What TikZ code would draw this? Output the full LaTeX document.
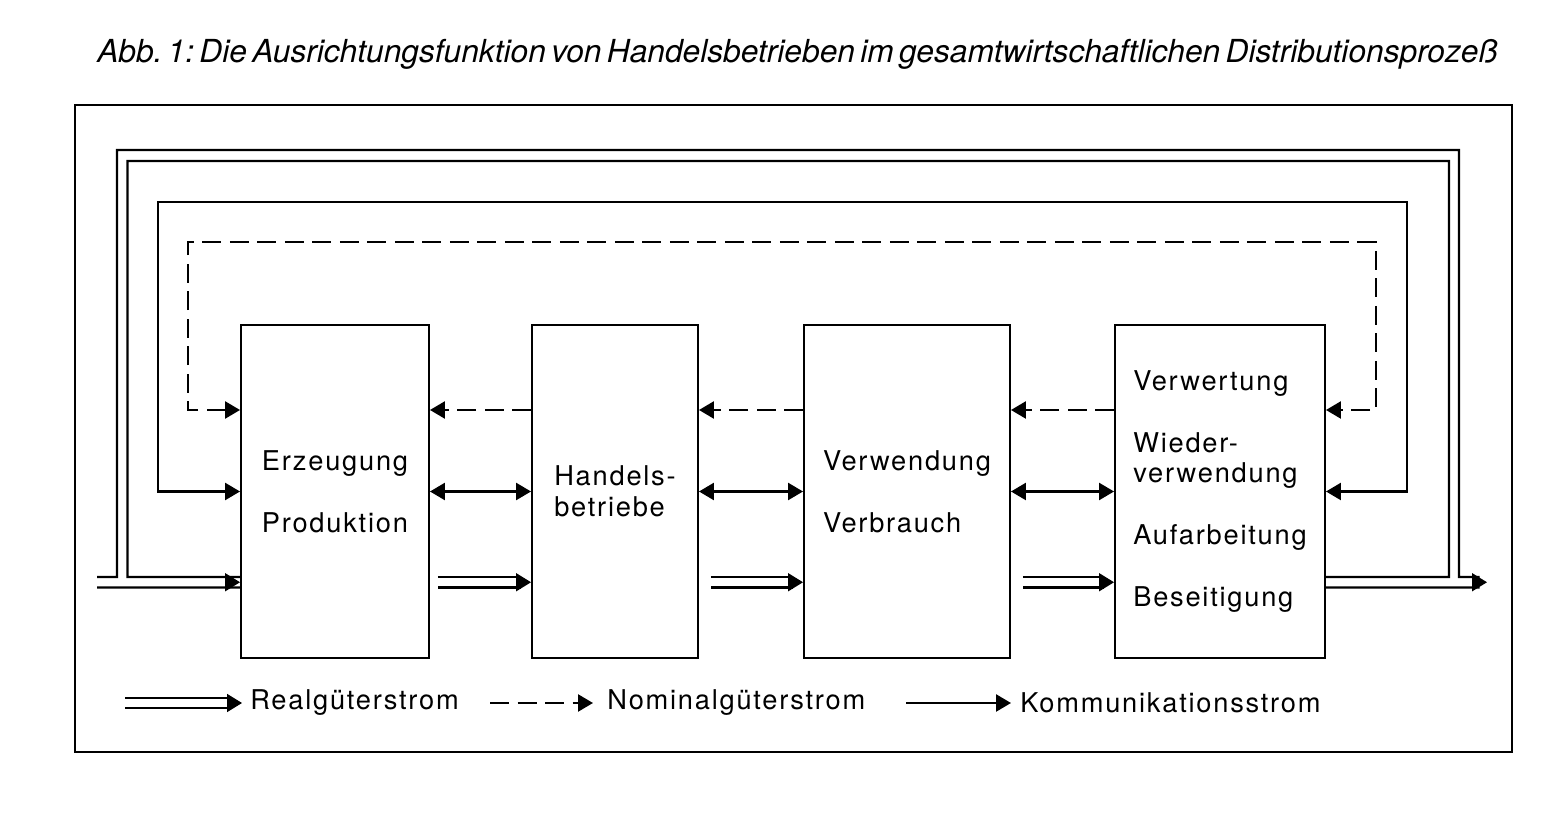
\documentclass[tikz,border=0pt]{standalone}
\usepackage{fontspec}
\setmainfont{TeX Gyre Heros}
\newfontfamily\boxfont[LetterSpace=6.5]{TeX Gyre Heros}
\newfontfamily\titelfont[WordSpace=0.6]{TeX Gyre Heros}
\usetikzlibrary{arrows.meta,calc}
\newlength{\gruppe}
\setlength{\gruppe}{0.62cm}
\tikzset{
  stufe/.style={draw, line width=1.1pt, minimum height=6.66cm, align=left, font=\boxfont\fontsize{15.5}{17.4}\selectfont},
  legende/.style={anchor=west, inner sep=0pt, font=\boxfont\fontsize{15.5}{17.4}\selectfont},
  fluss/.style={line width=1.4pt},
  komm/.style={fluss, {Triangle[length=0.3cm,width=0.34cm]}-{Triangle[length=0.3cm,width=0.34cm]}},
  nominal/.style={fluss, dash pattern=on 0.38cm off 0.17cm},
  realline/.style={double, double distance=0.16cm, line width=1.4pt},
  realtip/.style={-{Triangle[length=0.3cm,width=0.36cm]}, line width=1pt},
}

\begin{document}
\begin{tikzpicture}
  \useasboundingbox (0,0) rectangle (31.26,16.28);
  % title and frame
  \node[anchor=west, inner sep=0pt, font=\titelfont\itshape\frenchspacing\fontsize{18.05}{20}\selectfont] (titel) at (1.94,15.2) {Abb. 1: Die Ausrichtungsfunktion von Handelsbetrieben im gesamtwirtschaftlichen Distributionsprozeß};
  \draw[line width=1pt] (1.5,1.24) rectangle (30.24,14.18);
  % stages
  \node[stufe, minimum width=3.76cm] (erz) at (6.70,6.45) {Erzeugung\\[\gruppe]Produktion};
  \node[stufe, minimum width=3.32cm] (hand) at (12.30,6.45) {Handels-\\betriebe};
  \node[stufe, minimum width=4.12cm] (verw) at (18.14,6.45) {Verwendung\\[\gruppe]Verbrauch};
  \node[stufe, minimum width=4.20cm] (entsorg) at (24.40,6.45) {Verwertung\\[\gruppe]Wieder-\\verwendung\\[\gruppe]Aufarbeitung\\[\gruppe]Beseitigung};
  % loop corners
  \coordinate (nl) at (3.76,11.44);
  \coordinate (nr) at (27.52,11.44);
  \coordinate (kl) at (3.16,12.24);
  \coordinate (kr) at (28.14,12.24);
  \coordinate (ein) at (1.94,4.635);
  \coordinate (aus) at (29.74,4.635);
  \coordinate (e1) at ([yshift=-1.815cm]erz.west);
  \coordinate (a4) at ([yshift=-1.815cm]entsorg.east);
  % nominal flow
  \draw[nominal, -{Triangle[length=0.3cm,width=0.34cm]}] ([yshift=1.63cm]hand.west) -- ([yshift=1.63cm]erz.east);
  \draw[nominal, -{Triangle[length=0.3cm,width=0.34cm]}] ([yshift=1.63cm]verw.west) -- ([yshift=1.63cm]hand.east);
  \draw[nominal, -{Triangle[length=0.3cm,width=0.34cm]}] ([yshift=1.63cm]entsorg.west) -- ([yshift=1.63cm]verw.east);
  \draw[nominal, {Triangle[length=0.3cm,width=0.34cm]}-{Triangle[length=0.3cm,width=0.34cm]}] ([yshift=1.63cm]erz.west) -| (nl) -- (nr) |- ([yshift=1.63cm]entsorg.east);
  % communication
  \draw[komm] (erz.east) -- (hand.west);
  \draw[komm] (hand.east) -- (verw.west);
  \draw[komm] (verw.east) -- (entsorg.west);
  \draw[komm] (erz.west) -| (kl) -- (kr) |- (entsorg.east);
  % real goods
  \draw[realline] ([shift={(0.16,-1.815)}]erz.east) -- ([shift={(-0.2,-1.815)}]hand.west);
  \draw[realtip] ([shift={(-0.3,-1.815)}]hand.west) -- ([yshift=-1.815cm]hand.west);
  \draw[realline] ([shift={(0.24,-1.815)}]hand.east) -- ([shift={(-0.2,-1.815)}]verw.west);
  \draw[realtip] ([shift={(-0.3,-1.815)}]verw.west) -- ([yshift=-1.815cm]verw.west);
  \draw[realline] ([shift={(0.24,-1.815)}]verw.east) -- ([shift={(-0.2,-1.815)}]entsorg.west);
  \draw[realtip] ([shift={(-0.3,-1.815)}]entsorg.west) -- ([yshift=-1.815cm]entsorg.west);
  % recycling loop
  \draw[fluss] ([yshift=1.05mm]ein) -| (2.34,13.28) -| (29.18,4.74) -- ([shift={(-0.15,0.105)}]aus);
  \draw[fluss] ([yshift=1.05mm]a4) -| (28.98,13.06) -| (2.55,4.74) -- ([yshift=1.05mm]e1);
  \draw[fluss] ([yshift=-1.05mm]ein) -- ([yshift=-1.05mm]e1);
  \draw[fluss] ([yshift=-1.05mm]a4) -- ([shift={(-0.15,-0.105)}]aus);
  \draw[realtip] ([xshift=-0.3cm]e1) -- (e1);
  \draw[realtip] ([xshift=-0.3cm]aus) -- (aus);
  % legend
  \coordinate (lr) at (2.50,2.22);
  \node[legende] (lreal) at (5.00,2.22) {Realgüterstrom};
  \draw[realline] (lr) -- ([xshift=-0.36cm]lreal.west);
  \draw[realtip] ([xshift=-0.46cm]lreal.west) -- ([xshift=-0.16cm]lreal.west);
  \coordinate (ln) at (9.80,2.22);
  \node[legende] (lnom) at (12.14,2.22) {Nominalgüterstrom};
  \draw[nominal, -{Triangle[length=0.3cm,width=0.34cm]}] (ln) -- ([xshift=-0.28cm]lnom.west);
  \coordinate (lk) at (18.12,2.22);
  \node[legende] (lkomm) at (20.40,2.22) {Kommunikationsstrom};
  \draw[fluss, -{Triangle[length=0.3cm,width=0.34cm]}] (lk) -- ([xshift=-0.18cm]lkomm.west);
\end{tikzpicture}
\end{document}
